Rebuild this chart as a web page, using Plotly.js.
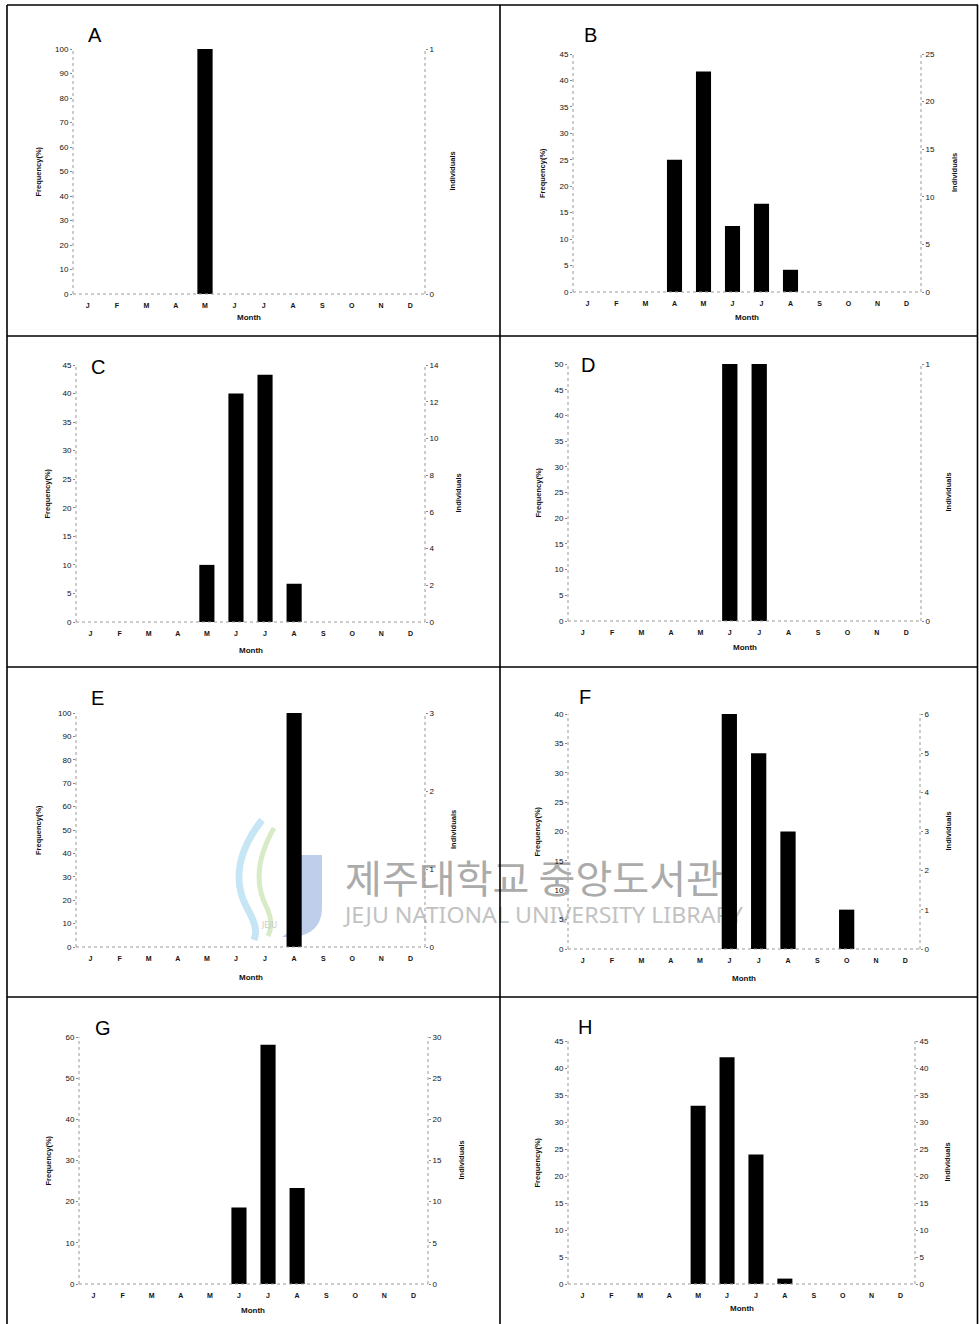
<!DOCTYPE html>
<html><head><meta charset="utf-8">
<script src="https://cdn.plot.ly/plotly-3.0.1.min.js"></script>
<style>
html,body{margin:0;padding:0;background:#fff;}
#wrap{position:relative;width:979px;height:1324px;overflow:hidden;}
#wm{position:absolute;left:0;top:0;z-index:0;}
#chart{position:absolute;left:0;top:0;width:979px;height:1324px;z-index:1;}
</style>
</head><body>
<div id="wrap">
<svg id="wm" width="979" height="1324" xmlns="http://www.w3.org/2000/svg">
  <path d="M262,820 C240,848 232,878 246,906 C254,920 258,930 254,940" stroke="#b8def2" stroke-width="7" fill="none" opacity="0.8"/>
  <path d="M274,828 C258,856 254,882 266,906 C272,918 272,928 268,936" stroke="#cce6b8" stroke-width="5" fill="none" opacity="0.8"/>
  <path d="M300,855 L322,855 L322,908 C322,928 308,937 290,937 L282,937 C296,928 300,916 300,900 Z" fill="#b3c6e8" opacity="0.85"/>
  <text x="262" y="928" font-family="Noto Sans" font-size="8" fill="#c8c8c8">JEJU</text>
  <text x="345" y="893" font-family="Noto Sans CJK KR" font-size="39" fill="#ababab" textLength="378" lengthAdjust="spacingAndGlyphs">제주대학교 중앙도서관</text>
  <text x="345" y="923" font-family="Noto Sans" font-size="21" fill="#c2c2c2" textLength="398" lengthAdjust="spacingAndGlyphs">JEJU NATIONAL UNIVERSITY LIBRARY</text>
</svg>
<div id="chart"></div>
</div>
<script>
// ---- data ----
const monthKeys = ['Jan','Feb','Mar','Apr','May','Jun','Jul','Aug','Sep','Oct','Nov','Dec'];
const monthLabels = ['J','F','M','A','M','J','J','A','S','O','N','D'];
const panelLetters = ['A','B','C','D','E','F','G','H'];

const freqA = [0,0,0,0,100,0,0,0,0,0,0,0];
const freqB = [0,0,0,25,41.7,12.5,16.7,4.2,0,0,0,0];
const freqC = [0,0,0,0,10,40,43.3,6.7,0,0,0,0];
const freqD = [0,0,0,0,0,50,50,0,0,0,0,0];
const freqE = [0,0,0,0,0,0,0,100,0,0,0,0];
const freqF = [0,0,0,0,0,40,33.3,20,0,6.7,0,0];
const freqG = [0,0,0,0,0,18.6,58.1,23.3,0,0,0,0];
const freqH = [0,0,0,0,33,42,24,1,0,0,0,0];

const indivA = [0,0,0,0,1,0,0,0,0,0,0,0];
const indivB = [0,0,0,6,10,3,4,1,0,0,0,0];
const indivC = [0,0,0,0,3,12,13,2,0,0,0,0];
const indivD = [0,0,0,0,0,1,1,0,0,0,0,0];
const indivE = [0,0,0,0,0,0,0,3,0,0,0,0];
const indivF = [0,0,0,0,0,6,5,3,0,1,0,0];
const indivG = [0,0,0,0,0,8,25,10,0,0,0,0];
const indivH = [0,0,0,0,33,42,24,1,0,0,0,0];

const freqAxisMax  = [100,45,45,50,100,40,60,45];
const freqAxisStep = [10,5,5,5,10,5,10,5];
const indivAxisMax  = [1,25,14,1,3,6,30,45];
const indivAxisStep = [1,5,2,1,1,1,5,5];

const freqTitle = 'Frequency(%)';
const indivTitle = 'Individuals';
const xTitle = 'Month';

const freqs = [freqA,freqB,freqC,freqD,freqE,freqF,freqG,freqH];
const indivs = [indivA,indivB,indivC,indivD,indivE,indivF,indivG,indivH];

// ---- layout geometry (pixels) ----
const W = 979, H = 1324;
const boxes = [
 {x0:73,x1:425,y0:49,y1:294, lx:95,ly:35, fx:38, ix:452, my:318},
 {x0:573,x1:921,y0:54,y1:292, lx:590,ly:35, fx:543, ix:955, my:317},
 {x0:76,x1:425,y0:365,y1:622, lx:98,ly:367, fx:47, ix:458, my:650},
 {x0:568,x1:921,y0:364,y1:621, lx:588,ly:365, fx:538, ix:948, my:648},
 {x0:76,x1:425,y0:713,y1:947, lx:97,ly:698, fx:38, ix:453, my:977},
 {x0:568,x1:920,y0:714,y1:949, lx:585,ly:697, fx:537, ix:948, my:978},
 {x0:79,x1:428,y0:1037,y1:1284, lx:103,ly:1028, fx:48, ix:461, my:1310},
 {x0:568,x1:915,y0:1041,y1:1284, lx:585,ly:1027, fx:537, ix:947, my:1308}
];
const px = v => v / W;
const py = v => 1 - v / H;

const FONT = 'Liberation Sans, Arial, sans-serif';
const traces = [];
const layout = {
  width: W, height: H,
  margin: {l:0, r:0, t:0, b:0},
  paper_bgcolor: 'rgba(0,0,0,0)',
  plot_bgcolor: 'rgba(0,0,0,0)',
  showlegend: false,
  bargap: 0.48,
  font: {family: FONT, color: '#111'},
  shapes: [],
  annotations: []
};

panelLetters.forEach((letter, i) => {
  const n = i + 1, r = i + 9;
  const b = boxes[i];
  const xs = n === 1 ? '' : String(n);
  traces.push({
    type: 'bar', x: monthKeys, y: freqs[i],
    xaxis: 'x' + xs, yaxis: 'y' + xs,
    marker: {color: '#000'}, hoverinfo: 'x+y'
  });
  traces.push({
    type: 'scatter', mode: 'markers', x: monthKeys, y: indivs[i],
    xaxis: 'x' + xs, yaxis: 'y' + r,
    marker: {opacity: 0, size: 1}, hoverinfo: 'skip'
  });
  layout['xaxis' + xs] = {
    domain: [px(b.x0), px(b.x1)], anchor: 'y' + xs,
    type: 'category', categoryarray: monthKeys, range: [-0.5, 11.5],
    tickvals: monthKeys, ticktext: monthLabels,
    ticks: '', showline: false, showgrid: false, zeroline: false,
    tickfont: {size: 7, family: FONT, weight: 'bold', color: '#111'},
    ticklabelstandoff: 6, fixedrange: true
  };
  layout['yaxis' + xs] = {
    domain: [py(b.y1), py(b.y0)], anchor: 'x' + xs,
    range: [0, freqAxisMax[i]], dtick: freqAxisStep[i], tick0: 0,
    ticks: 'outside', ticklen: 2, tickcolor: '#888', tickwidth: 1,
    showline: false, showgrid: false, zeroline: false,
    tickfont: {size: 8, family: FONT, color: '#111'}, fixedrange: true
  };
  layout['yaxis' + r] = {
    overlaying: 'y' + xs, side: 'right', anchor: 'x' + xs,
    range: [0, indivAxisMax[i]], dtick: indivAxisStep[i], tick0: 0,
    ticks: 'outside', ticklen: 2, tickcolor: '#888', tickwidth: 1,
    showline: false, showgrid: false, zeroline: false,
    tickfont: {size: 8, family: FONT, color: '#111'}, fixedrange: true
  };
  const dotted = {color: '#9a9a9a', width: 1, dash: 'dot'};
  layout.shapes.push(
    {type:'line', xref:'x'+xs+' domain', yref:'y'+xs+' domain', x0:0, x1:0, y0:0, y1:1, line: dotted},
    {type:'line', xref:'x'+xs+' domain', yref:'y'+xs+' domain', x0:1, x1:1, y0:0, y1:1, line: dotted},
    {type:'line', xref:'x'+xs+' domain', yref:'y'+xs+' domain', x0:0, x1:1, y0:0, y1:0, line: dotted}
  );
  const midY = py((b.y0 + b.y1) / 2);
  layout.annotations.push(
    {text: letter, xref:'paper', yref:'paper', x: px(b.lx), y: py(b.ly), xanchor:'center', yanchor:'middle', showarrow:false, font:{size:20, family:FONT, color:'#000'}},
    {text: freqTitle, xref:'paper', yref:'paper', x: px(b.fx), y: midY, textangle:-90, xanchor:'center', yanchor:'middle', showarrow:false, font:{size:7.5, family:FONT, weight:'bold', color:'#111'}},
    {text: indivTitle, xref:'paper', yref:'paper', x: px(b.ix), y: midY, textangle:-90, xanchor:'center', yanchor:'middle', showarrow:false, font:{size:7.5, family:FONT, weight:'bold', color:'#111'}},
    {text: xTitle, xref:'paper', yref:'paper', x: px((b.x0 + b.x1) / 2), y: py(b.my), xanchor:'center', yanchor:'middle', showarrow:false, font:{size:8, family:FONT, weight:'bold', color:'#111'}}
  );
});

// frame lines
const frame = {color:'#000', width:1.6};
[
  [7,5,978,5],[7,5,7,1324],[977.5,5,977.5,1324],[500,5,500,1324],
  [7,336,978,336],[7,667,978,667],[7,997,978,997]
].forEach(s => layout.shapes.push({type:'line', xref:'paper', yref:'paper', x0:px(s[0]), y0:py(s[1]), x1:px(s[2]), y1:py(s[3]), line: frame}));

Plotly.newPlot('chart', traces, layout, {displayModeBar:false, staticPlot:true});
</script>
</body></html>
